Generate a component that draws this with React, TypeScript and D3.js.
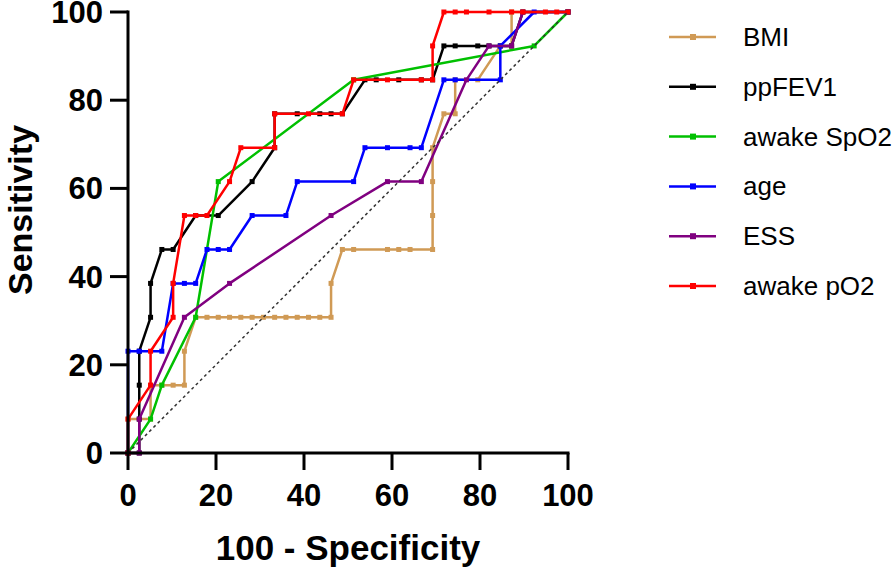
import * as d3 from 'd3'

// ROC points, [100 - specificity %, sensitivity %]
const bmi = [[0,0],[0,7.69],[5.13,7.69],[5.13,15.38],[7.69,15.38],[10.26,15.38],[12.82,15.38],[12.82,23.08],
  [15.38,30.77],[17.95,30.77],[20.51,30.77],[23.08,30.77],[25.64,30.77],[28.21,30.77],[30.77,30.77],[33.33,30.77],
  [35.9,30.77],[38.46,30.77],[41.03,30.77],[43.59,30.77],[46.15,30.77],[46.15,38.46],[48.72,46.15],[51.28,46.15],
  [58.97,46.15],[61.54,46.15],[64.1,46.15],[69.23,46.15],[69.23,53.85],[69.23,61.54],[69.23,69.23],[71.79,76.92],
  [74.36,76.92],[74.36,84.62],[79.49,84.62],[84.62,92.31],[87.18,92.31],[87.18,100],[100,100]]

const ppFEV1 = [[0,0],[2.56,0],[2.56,7.69],[2.56,15.38],[2.56,23.08],[5.13,30.77],[5.13,38.46],[7.69,46.15],
  [10.26,46.15],[15.38,53.85],[20.51,53.85],[28.21,61.54],[33.33,69.23],[33.33,76.92],[38.46,76.92],[43.59,76.92],
  [46.15,76.92],[48.72,76.92],[53.85,84.62],[56.41,84.62],[61.54,84.62],[66.67,84.62],[69.23,84.62],[71.79,92.31],
  [74.36,92.31],[79.49,92.31],[82.05,92.31],[84.62,92.31],[87.18,92.31],[89.74,100],[100,100]]

const spo2 = [[0,0],[5.13,7.69],[7.69,15.38],[15.38,30.77],[20.51,61.54],[51.28,84.62],[92.31,92.31],[100,100]]

const age = [[0,0],[0,23.08],[2.56,23.08],[7.69,23.08],[10.26,38.46],[12.82,38.46],[15.38,38.46],[17.95,46.15],
  [20.51,46.15],[23.08,46.15],[28.21,53.85],[35.9,53.85],[38.46,61.54],[51.28,61.54],[53.85,69.23],[58.97,69.23],
  [64.1,69.23],[66.67,69.23],[71.79,84.62],[74.36,84.62],[84.62,84.62],[84.62,92.31],[92.31,100],[100,100]]

const ess = [[0,0],[2.56,0],[2.56,7.69],[12.82,30.77],[23.08,38.46],[46.15,53.85],[58.97,61.54],[66.67,61.54],
  [76.92,84.62],[82.05,92.31],[87.18,92.31],[89.74,100],[100,100]]

const po2 = [[0,0],[0,7.69],[5.13,15.38],[5.13,23.08],[10.26,30.77],[10.26,38.46],[12.82,53.85],[15.38,53.85],
  [17.95,53.85],[23.08,61.54],[25.64,69.23],[33.33,69.23],[33.33,76.92],[41.03,76.92],[48.72,76.92],[51.28,84.62],
  [58.97,84.62],[66.67,84.62],[69.23,84.62],[69.23,92.31],[71.79,100],[74.36,100],[76.92,100],[82.05,100],
  [87.18,100],[89.74,100],[94.87,100],[97.44,100],[100,100]]

const seriesNames = ['BMI', 'ppFEV1', 'awake SpO2', 'age', 'ESS', 'awake pO2']
const seriesData = [bmi, ppFEV1, spo2, age, ess, po2]
const seriesColors = ['#D09A55', '#000000', '#00C000', '#0000FF', '#800080', '#FF0000']
const ticks = [0, 20, 40, 60, 80, 100]

const font = '"Liberation Sans", Arial, sans-serif'

export default function App() {
  const x = d3.scaleLinear().domain([0, 100]).range([128, 568])
  const y = d3.scaleLinear().domain([0, 100]).range([453, 12])
  const line = d3.line<number[]>().x(d => x(d[0])).y(d => y(d[1]))

  return (
    <svg width={896} height={570} style={{ position: 'absolute', left: 0, top: 0, background: '#fff' }}>
      {seriesData.map((pts, i) => (
        <g key={seriesNames[i]}>
          <path d={line(pts) || ''} fill="none" stroke={seriesColors[i]} strokeWidth={2.5} strokeLinejoin="round" />
          {pts.map((p, j) => (
            <rect key={j} x={x(p[0]) - 2.5} y={y(p[1]) - 2.5} width={5} height={5} fill={seriesColors[i]} />
          ))}
        </g>
      ))}
      <line x1={x(0)} y1={y(0)} x2={x(100)} y2={y(100)} stroke="#333" strokeWidth={1.5} strokeDasharray="3,3" />

      {/* axes */}
      <line x1={x(0)} y1={y(0)} x2={x(0)} y2={y(100) - 1.5} stroke="#000" strokeWidth={3} />
      <line x1={x(0) - 1.5} y1={y(0)} x2={x(100) + 1.5} y2={y(0)} stroke="#000" strokeWidth={3} />
      {ticks.map(t => (
        <g key={'y' + t}>
          <line x1={x(0) - 18} x2={x(0)} y1={y(t)} y2={y(t)} stroke="#000" strokeWidth={3} />
          <text x={x(0) - 25} y={y(t) + 11} textAnchor="end" fontFamily={font} fontWeight="bold" fontSize={31}>{t}</text>
        </g>
      ))}
      {ticks.map(t => (
        <g key={'x' + t}>
          <line x1={x(t)} x2={x(t)} y1={y(0)} y2={y(0) + 17} stroke="#000" strokeWidth={3} />
          <text x={x(t)} y={506} textAnchor="middle" fontFamily={font} fontWeight="bold" fontSize={31}>{t}</text>
        </g>
      ))}
      <text x={348} y={560} textAnchor="middle" fontFamily={font} fontWeight="bold" fontSize={35}>100 - Specificity</text>
      <text transform="translate(32,210) rotate(-90)" textAnchor="middle" fontFamily={font} fontWeight="bold" fontSize={34}>Sensitivity</text>

      {/* legend */}
      {seriesNames.map((name, i) => {
        const ly = 37 + i * 49.8
        return (
          <g key={'lg' + name}>
            <line x1={669} x2={716} y1={ly} y2={ly} stroke={seriesColors[i]} strokeWidth={2.5} />
            <rect x={690} y={ly - 3} width={6} height={6} fill={seriesColors[i]} />
            <text x={743} y={ly + 9} fontFamily={font} fontSize={26}>{name}</text>
          </g>
        )
      })}
    </svg>
  )
}
